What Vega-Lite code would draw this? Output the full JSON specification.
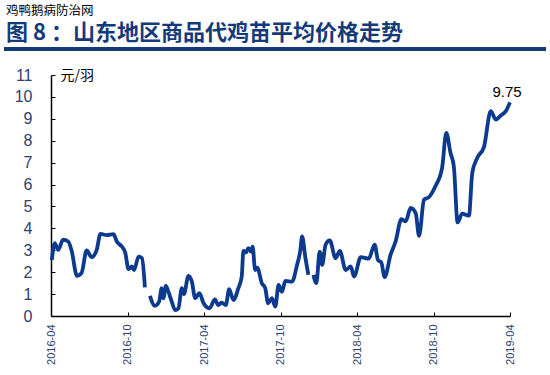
{
  "$schema": "https://vega.github.io/schema/vega-lite/v6.json",
  "width": 459,
  "height": 241,
  "autosize": {"type": "none"},
  "padding": {"left": 51, "top": 75, "right": 40, "bottom": 59},
  "background": "white",
  "config": {"view": {"stroke": null}, "font": "Liberation Sans, Noto Sans CJK SC"},
  "title": {
    "text": "鸡鸭鹅病防治网",
    "subtitle": "图 8 ：山东地区商品代鸡苗平均价格走势",
    "anchor": "start",
    "frame": "group",
    "dx": -45,
    "offset": 3,
    "font": "Noto Sans CJK SC",
    "fontSize": 12.5,
    "fontWeight": "normal",
    "color": "#000000",
    "subtitleFont": "Noto Sans CJK SC",
    "subtitleFontSize": 22,
    "subtitleFontWeight": "bold",
    "subtitleColor": "#143a7c",
    "subtitlePadding": 6
  },
  "data": {"values": [
    {"date": "2016-04-03", "price": 2.56},
    {"date": "2016-04-10", "price": 3.33},
    {"date": "2016-04-18", "price": 3.02},
    {"date": "2016-04-30", "price": 3.48},
    {"date": "2016-05-12", "price": 3.40},
    {"date": "2016-05-20", "price": 3.0},
    {"date": "2016-06-02", "price": 1.83},
    {"date": "2016-06-13", "price": 1.97},
    {"date": "2016-06-25", "price": 2.99},
    {"date": "2016-07-07", "price": 2.69},
    {"date": "2016-07-19", "price": 3.02},
    {"date": "2016-07-28", "price": 3.75},
    {"date": "2016-08-12", "price": 3.69},
    {"date": "2016-08-28", "price": 3.74},
    {"date": "2016-09-05", "price": 3.40},
    {"date": "2016-09-17", "price": 3.17},
    {"date": "2016-09-25", "price": 2.90},
    {"date": "2016-10-03", "price": 2.14},
    {"date": "2016-10-11", "price": 2.26},
    {"date": "2016-10-16", "price": 2.10},
    {"date": "2016-10-27", "price": 2.71},
    {"date": "2016-11-04", "price": 2.64},
    {"date": "2016-11-11", "price": 1.31},
    {"date": "2016-11-16", "price": null},
    {"date": "2016-11-23", "price": 0.92},
    {"date": "2016-12-05", "price": 0.46},
    {"date": "2016-12-15", "price": 0.66},
    {"date": "2016-12-21", "price": 1.27},
    {"date": "2016-12-25", "price": 0.81},
    {"date": "2016-12-31", "price": 1.37},
    {"date": "2017-01-06", "price": 1.11},
    {"date": "2017-01-14", "price": 0.66},
    {"date": "2017-01-22", "price": 0.27},
    {"date": "2017-01-30", "price": 0.35},
    {"date": "2017-02-07", "price": 1.27},
    {"date": "2017-02-12", "price": 1.0},
    {"date": "2017-02-23", "price": 1.83},
    {"date": "2017-03-03", "price": 1.57},
    {"date": "2017-03-11", "price": 0.81},
    {"date": "2017-03-21", "price": 1.04},
    {"date": "2017-03-31", "price": 0.58},
    {"date": "2017-04-14", "price": 0.35},
    {"date": "2017-04-27", "price": 0.76},
    {"date": "2017-05-05", "price": 0.50},
    {"date": "2017-05-13", "price": 0.61},
    {"date": "2017-05-23", "price": 0.50},
    {"date": "2017-05-31", "price": 1.22},
    {"date": "2017-06-10", "price": 0.73},
    {"date": "2017-06-22", "price": 1.27},
    {"date": "2017-06-30", "price": 1.80},
    {"date": "2017-07-04", "price": 2.97},
    {"date": "2017-07-10", "price": 2.90},
    {"date": "2017-07-16", "price": 3.10},
    {"date": "2017-07-22", "price": 2.94},
    {"date": "2017-07-26", "price": 3.17},
    {"date": "2017-08-01", "price": 2.10},
    {"date": "2017-08-06", "price": 2.21},
    {"date": "2017-08-17", "price": 1.50},
    {"date": "2017-08-25", "price": 1.27},
    {"date": "2017-09-01", "price": 0.58},
    {"date": "2017-09-10", "price": 0.81},
    {"date": "2017-09-18", "price": 0.43},
    {"date": "2017-09-26", "price": 1.42},
    {"date": "2017-10-04", "price": 1.11},
    {"date": "2017-10-12", "price": 1.60},
    {"date": "2017-10-28", "price": 1.57},
    {"date": "2017-11-09", "price": 2.33},
    {"date": "2017-11-17", "price": 3.02},
    {"date": "2017-11-21", "price": 3.63},
    {"date": "2017-11-29", "price": 2.64},
    {"date": "2017-12-06", "price": 1.88},
    {"date": "2017-12-12", "price": null},
    {"date": "2017-12-18", "price": 1.88},
    {"date": "2017-12-25", "price": 1.50},
    {"date": "2018-01-02", "price": 2.94},
    {"date": "2018-01-08", "price": 2.33},
    {"date": "2018-01-16", "price": 3.25},
    {"date": "2018-01-26", "price": 3.45},
    {"date": "2018-02-09", "price": 2.64},
    {"date": "2018-02-19", "price": 2.97},
    {"date": "2018-03-05", "price": 2.10},
    {"date": "2018-03-17", "price": 2.26},
    {"date": "2018-03-25", "price": 1.80},
    {"date": "2018-04-10", "price": 2.69},
    {"date": "2018-04-29", "price": 2.62},
    {"date": "2018-05-13", "price": 3.26},
    {"date": "2018-05-21", "price": 2.56},
    {"date": "2018-05-29", "price": 2.44},
    {"date": "2018-06-06", "price": 1.77},
    {"date": "2018-06-20", "price": 2.79},
    {"date": "2018-07-02", "price": 3.40},
    {"date": "2018-07-16", "price": 4.42},
    {"date": "2018-07-26", "price": 4.32},
    {"date": "2018-08-07", "price": 4.93},
    {"date": "2018-08-19", "price": 4.70},
    {"date": "2018-08-27", "price": 3.66},
    {"date": "2018-09-08", "price": 5.31},
    {"date": "2018-09-20", "price": 5.43},
    {"date": "2018-10-05", "price": 5.92},
    {"date": "2018-10-21", "price": 6.76},
    {"date": "2018-10-31", "price": 8.36},
    {"date": "2018-11-10", "price": 7.45},
    {"date": "2018-11-18", "price": 6.83},
    {"date": "2018-11-27", "price": 4.27},
    {"date": "2018-12-08", "price": 4.67},
    {"date": "2018-12-24", "price": 4.58},
    {"date": "2019-01-01", "price": 6.53},
    {"date": "2019-01-13", "price": 7.22},
    {"date": "2019-01-29", "price": 7.72},
    {"date": "2019-02-14", "price": 9.35},
    {"date": "2019-02-26", "price": 8.97},
    {"date": "2019-03-10", "price": 9.15},
    {"date": "2019-03-22", "price": 9.35},
    {"date": "2019-04-01", "price": 9.75}
  ]},
  "encoding": {
    "x": {
      "field": "date", "type": "temporal",
      "scale": {"domain": ["2016-04-01", "2019-04-01"]},
      "axis": {
        "title": null,
        "values": ["2016-04-01", "2016-10-01", "2017-04-01", "2017-10-01", "2018-04-01", "2018-10-01", "2019-04-01"],
        "format": "%Y-%m",
        "labelAngle": -90,
        "labelFontSize": 11,
        "labelColor": "#2a4270",
        "labelFont": "Liberation Sans",
        "labelOverlap": false,
        "tickSize": -4,
        "tickColor": "#000000",
        "labelPadding": 12,
        "domainColor": "#000000",
        "domainWidth": 1.5,
        "grid": false
      }
    },
    "y": {
      "field": "price", "type": "quantitative",
      "scale": {"domain": [0, 11], "nice": false},
      "axis": {
        "title": "元/羽",
        "titleAngle": 0,
        "titleAlign": "left",
        "titleBaseline": "top",
        "titleX": 9,
        "titleY": -7,
        "titleFont": "Noto Sans CJK SC",
        "titleFontSize": 14,
        "titleFontWeight": "normal",
        "titleColor": "#000000",
        "values": [0, 1, 2, 3, 4, 5, 6, 7, 8, 9, 10, 11],
        "labelOverlap": false,
        "labelFontSize": 16,
        "labelColor": "#2a4270",
        "labelFont": "Liberation Sans",
        "tickSize": -4,
        "tickColor": "#000000",
        "labelPadding": 23,
        "domainColor": "#000000",
        "domainWidth": 1.5,
        "grid": false
      }
    }
  },
  "layer": [
    {
      "mark": {"type": "line", "color": "#0b3a8f", "strokeWidth": 3.8, "interpolate": "monotone", "invalid": "break-paths-filter-domains"}
    },
    {
      "mark": {"type": "rule", "color": "#143a7c", "strokeWidth": 3.5, "clip": false},
      "encoding": {
        "x": {
          "datum": {"year": 2015, "month": 12, "date": 13}, "type": "temporal",
          "axis": {
            "title": null,
            "values": ["2016-04-01", "2016-10-01", "2017-04-01", "2017-10-01", "2018-04-01", "2018-10-01", "2019-04-01"],
            "format": "%Y-%m",
            "labelAngle": -90,
            "labelFontSize": 11,
            "labelColor": "#2a4270",
            "labelFont": "Liberation Sans",
            "labelOverlap": false,
            "tickSize": -4,
            "tickColor": "#000000",
            "labelPadding": 12,
            "domainColor": "#000000",
            "domainWidth": 1.5,
            "grid": false
          }
        },
        "x2": {"datum": {"year": 2019, "month": 6, "date": 24}},
        "y": {
          "datum": 12.18, "type": "quantitative",
          "axis": {
            "title": "元/羽",
            "titleAngle": 0,
            "titleAlign": "left",
            "titleBaseline": "top",
            "titleX": 9,
            "titleY": -7,
            "titleFont": "Noto Sans CJK SC",
            "titleFontSize": 14,
            "titleFontWeight": "normal",
            "titleColor": "#000000",
            "values": [0, 1, 2, 3, 4, 5, 6, 7, 8, 9, 10, 11],
            "labelOverlap": false,
            "labelFontSize": 16,
            "labelColor": "#2a4270",
            "labelFont": "Liberation Sans",
            "tickSize": -4,
            "tickColor": "#000000",
            "labelPadding": 23,
            "domainColor": "#000000",
            "domainWidth": 1.5,
            "grid": false
          }
        }
      }
    },
    {
      "transform": [{"filter": "datum.price == 9.75"}],
      "mark": {"type": "text", "font": "Liberation Sans", "fontSize": 15, "color": "#000000", "baseline": "bottom", "align": "center", "dx": -3, "dy": -2},
      "encoding": {
        "text": {"field": "price", "type": "quantitative", "format": ".2f"}
      }
    }
  ]
}
